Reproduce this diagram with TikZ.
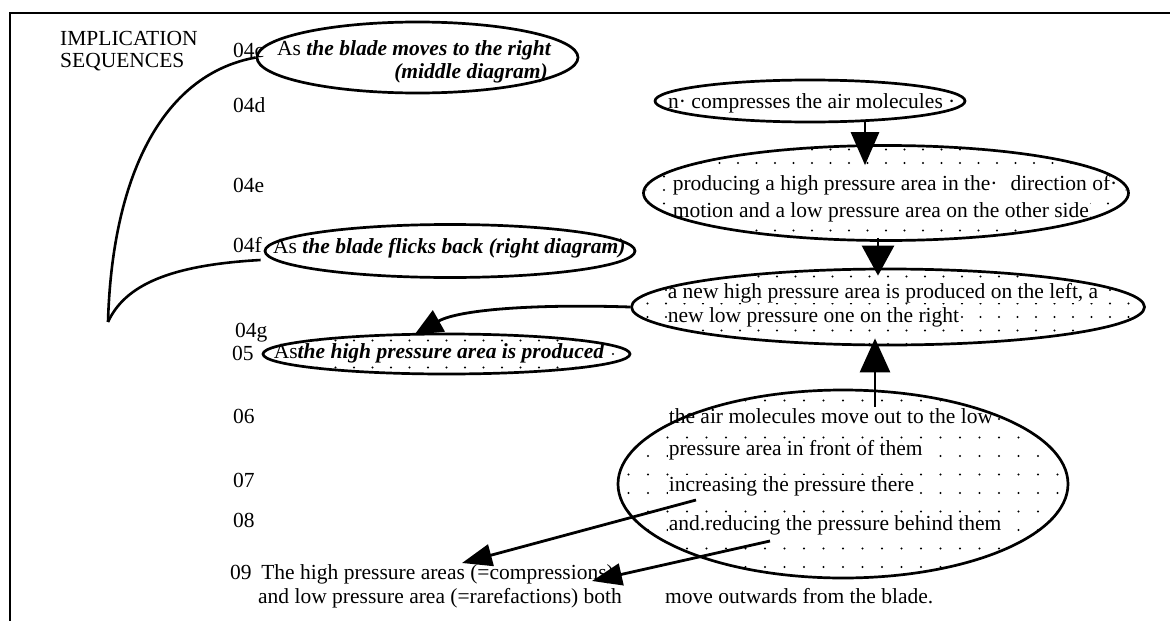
\documentclass[tikz,border=0pt]{standalone}
\usepackage{fontspec}
\setmainfont{Liberation Serif}
\usetikzlibrary{shapes.geometric,arrows.meta,calc,backgrounds}

% bold italic run of text
\newcommand\bix[1]{\textbf{\textit{#1}}}

% sparse dot screen clipped to an ellipse: cx cy rx ry first-row row-step column-step
\newcommand\dotfield[7]{%
  \begin{scope}[on background layer]
    \begin{scope}
      \clip (#1,#2) ellipse [x radius=#3, y radius=#4];
      \foreach \gx in {-30,...,30}
        \foreach \gy in {0,...,14}
          \fill ({#1+\gx*#7},{#5+\gy*#6}) circle (1.1pt);
    \end{scope}
  \end{scope}}

\begin{document}
\begin{tikzpicture}[x=1pt,y=-1pt,
  txt/.style={font=\fontsize{21.5}{25}\selectfont, inner sep=0pt, anchor=base west},
  dtxt/.style={txt, fill=white, inner sep=0.6pt},
  oval/.style={ellipse, draw, line width=2.7pt, inner sep=0pt},
  link/.style={line width=2.6pt},
  frame/.style={line width=2.4pt},
  arrA/.style={line width=2.8pt, -{Triangle[length=33pt,width=28pt]}},
  arrB/.style={line width=2.8pt, -{Triangle[length=30pt,width=32pt]}},
  arrC/.style={line width=2.8pt, -{Triangle[length=34pt,width=30pt]}},
  arrD/.style={line width=2.8pt, -{Triangle[length=28pt,width=24pt]}},
  arrE/.style={line width=2.8pt, -{Triangle[length=30pt,width=22pt]}}
]
\useasboundingbox (0,0) rectangle (1170,621);

% page frame
\draw[frame] (1170,13) -- (10,13) -- (10,621);

% dot screens of the shaded ovals
\dotfield{886}{193}{241}{46.5}{136}{13.5}{18.5}
\dotfield{888}{307}{255}{37}{263}{13.5}{18.5}
\dotfield{446.5}{354}{182.5}{19}{327}{13.5}{18.5}
\dotfield{843}{484}{224}{93}{382}{18.5}{19.5}

% heading
\node[txt] (imp1) at (60,45) {IMPLICATION};
\node[txt] (imp2) at (60,67) {SEQUENCES};

% sequence numbers
\node[txt] (n04c) at (233,57) {04c};
\node[txt] (n04d) at (233,112) {04d};
\node[txt] (n04e) at (233,192) {04e};
\node[txt] (n04f) at (233,252) {04f};
\node[txt] (n04g) at (235,337) {04g};
\node[txt] (n05) at (232,360) {05};
\node[txt] (n06) at (233,423) {06};
\node[txt] (n07) at (233,487) {07};
\node[txt] (n08) at (233,527) {08};

% texts inside the ovals
\node[txt] (ct1) at (277,55) {As \bix{the blade moves to the right}};
\node[txt, anchor=base east] (ct2) at (548,78) {\bix{(middle diagram)}};
\node[txt] (dt) at (668,108) {n· compresses the air molecules ·};
\node[dtxt] (et1) at (672,190) {producing a high pressure area in the·\hspace{0.6em}direction of·};
\node[dtxt] (et2) at (672,217) {motion and a low pressure area on the other side};
\node[txt] (ft) at (273,253) {As \bix{the blade flicks back (right diagram)}};
\node[dtxt] (gt1) at (667,298) {a new high pressure area is produced on the left, a};
\node[dtxt] (gt2) at (667,322) {new low pressure one on the right};
\node[dtxt] (pt) at (273,358) {As\bix{the high pressure area} \bix{is produced}};
\node[dtxt] (ht1) at (668,423) {the air molecules move out to the low};
\node[dtxt] (ht2) at (668,455) {pressure area in front of them};
\node[dtxt] (ht3) at (668,491) {increasing the pressure there};
\node[dtxt] (ht4) at (668,530) {and.reducing the pressure behind them};

% closing statement
\node[txt] (t9a) at (230,579) {09\hspace{0.45em}The high pressure areas (=compressions)};
\node[txt] (t9b) at (258,603) {and low pressure area (=rarefactions) both};
\node[txt] (t9c) at (665,603) {move outwards from the blade.};

% ovals
\node[oval, minimum width=321pt, minimum height=71pt] (c) at (417.5,57.5) {};
\node[oval, minimum width=310pt, minimum height=42pt] (d) at (810,101) {};
\node[oval, minimum width=485pt, minimum height=95pt] (e) at (886,193) {};
\node[oval, minimum width=370pt, minimum height=53pt] (f) at (450,251) {};
\node[oval, minimum width=513pt, minimum height=76pt] (g) at (888,307) {};
\node[oval, minimum width=367pt, minimum height=40pt] (p) at (446.5,354) {};
\node[oval, minimum width=450pt, minimum height=188pt] (h) at (843,484) {};

% bracket joining 04c and 04f
\coordinate (jn) at (108,322);
\draw[link] (c.west) .. controls (160,75) and (112,180) .. (jn);
\draw[link] (jn) .. controls (125,285) and (170,265) .. ($(f.west)+(-3,9)$);

% implication arrows
\draw[arrA] ($(d.south)+(55,-1)$) -- ($(e.north)+(-21,21)$);
\draw[arrB] ($(e.south)+(-8,-4)$) -- ($(g.north)+(-10,8)$);
\draw[arrC] ($(h.north)+(32,18)$) -- ($(g.south)+(-13,-8)$);
\draw[arrD] (g.west) .. controls (540,304) and (460,309) .. ($(p.north)+(-32,2)$);

\coordinate (s1) at ($(h.center)+(-147,16)$);
\coordinate (s2) at ($(h.center)+(-73,57)$);
\draw[arrE] (s1) -- ($(t9a.base west)+(232,-16)$);
\draw[arrE] (s2) -- ($(t9a.base west)+(362,2)$);
\end{tikzpicture}
\end{document}
